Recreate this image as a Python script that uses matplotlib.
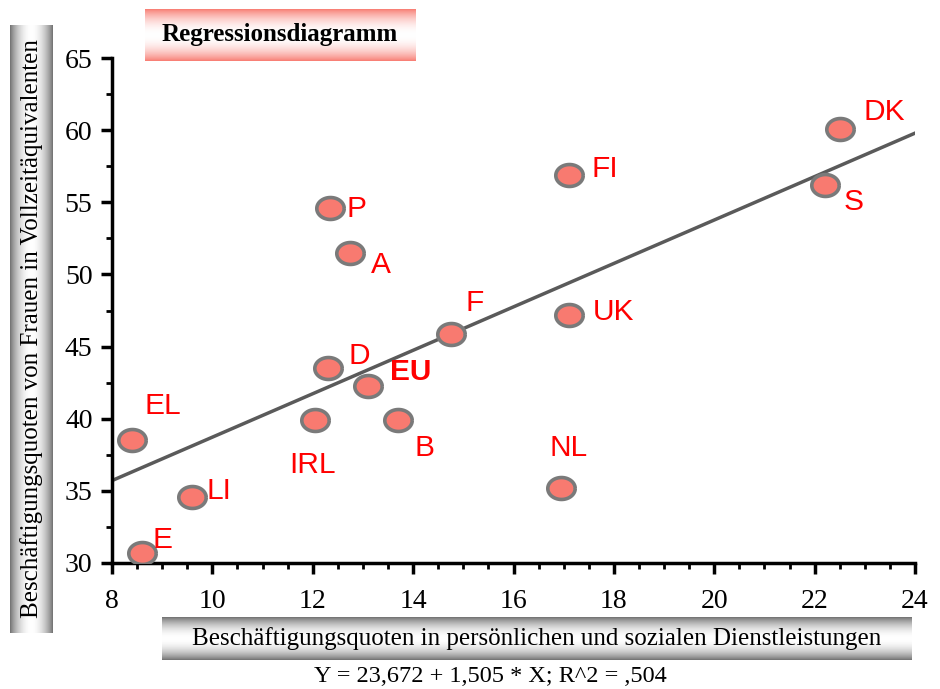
import numpy as np
import matplotlib
matplotlib.use("Agg")
import matplotlib.pyplot as plt
from matplotlib.path import Path
from matplotlib.colors import to_rgb

# data
countries = ["DK", "S", "FI", "P", "A", "F", "UK", "D", "EU", "B", "IRL", "NL", "EL", "LI", "E"]
x_vals = [22.5, 22.2, 17.1, 12.35, 12.75, 14.75, 17.1, 12.3, 13.1, 13.7, 12.05, 16.95, 8.4, 9.6, 8.6]
y_vals = [60.1, 56.2, 56.9, 54.6, 51.5, 45.9, 47.2, 43.5, 42.3, 39.9, 39.9, 35.2, 38.5, 34.6, 30.7]
intercept = 23.672
slope = 1.505

# label offsets (points) relative to each marker
offsets = {
    "DK": (32, 12), "S": (21, -12), "FI": (26, 4), "P": (19, -1), "A": (22, -9),
    "F": (17, 22), "UK": (32, 2), "D": (23, 9), "EU": (31, 10), "B": (19, -20),
    "IRL": (-2, -32), "NL": (5, 29), "EL": (22, 25), "LI": (19, 4), "E": (15, 9),
}

plt.rcParams["font.family"] = ["Liberation Serif", "DejaVu Serif"]

fig = plt.figure(figsize=(9.4, 6.89), dpi=100)
W, H = 940, 689


def px_axes(x0, y0, x1, y1, **kw):
    # axes from pixel box (top-left origin)
    return fig.add_axes([x0 / W, 1 - y1 / H, (x1 - x0) / W, (y1 - y0) / H], **kw)


def gradient_box(x0, y0, x1, y1, edge, vertical=True):
    a = px_axes(x0, y0, x1, y1)
    t = np.linspace(0, 1, 200)
    w = np.sin(np.pi * t) ** 0.8
    e = np.array(to_rgb(edge))
    cols = e[None, :] * (1 - w[:, None]) + w[:, None]
    img = cols[:, None, :] if vertical else cols[None, :, :]
    a.imshow(img, aspect="auto", extent=[0, 1, 0, 1])
    a.set_axis_off()
    return a


ax = px_axes(112, 58, 915, 563)

theta = np.linspace(0, 2 * np.pi, 60)
ell = Path(np.column_stack([np.cos(theta), 0.8 * np.sin(theta)]))
ax.scatter(x_vals, y_vals, s=390, marker=ell, facecolor="#F87A70",
           edgecolor="#7A7A7A", linewidth=2.6, zorder=3)

xl = np.array([8, 24])
ax.plot(xl, intercept + slope * xl, color="#5A5A5A", lw=2.5, zorder=2)

for c, x, y in zip(countries, x_vals, y_vals):
    dx, dy = offsets[c]
    ax.annotate(c, (x, y), xytext=(dx, dy), textcoords="offset points",
                ha="center", va="center", color="red", fontsize=21.5,
                family=["Liberation Sans", "DejaVu Sans"],
                fontweight="bold" if c == "EU" else "normal")

ax.set_xlim(8, 24)
ax.set_ylim(30, 65)
ax.set_xticks(np.arange(8, 25, 2))
ax.set_yticks(np.arange(30, 66, 5))
ax.set_xticks(np.arange(8, 24.1, 0.5), minor=True)
ax.set_yticks(np.arange(30, 65.1, 2.5), minor=True)
ax.spines["top"].set_visible(False)
ax.spines["right"].set_visible(False)
for s in ("left", "bottom"):
    ax.spines[s].set_linewidth(2.5)
ax.tick_params(which="major", direction="out", length=8, width=2.5, labelsize=20)
ax.tick_params(axis="x", which="major", pad=11)
ax.tick_params(axis="y", which="major", pad=6)
ax.tick_params(which="minor", direction="out", length=4, width=2)

# axis title boxes
bx = gradient_box(162, 617, 912, 660, "#6E6E6E", vertical=True)
bx.text(0.5, 0.5, "Beschäftigungsquoten in persönlichen und sozialen Dienstleistungen",
        ha="center", va="center", fontsize=18, transform=bx.transAxes)

by = gradient_box(10, 25, 53, 633, "#6E6E6E", vertical=False)
by.text(0.5, 0.5, "Beschäftigungsquoten von Frauen in Vollzeitäquivalenten",
        ha="center", va="center", fontsize=18, rotation=90, transform=by.transAxes)

bt = gradient_box(145, 9, 415, 61, "#F87A70", vertical=True)
bt.text(0.5, 0.5, "Regressionsdiagramm", ha="center", va="center",
        fontsize=18, fontweight="bold", transform=bt.transAxes)

fig.text(490 / W, 1 - 676 / H, "Y = 23,672 + 1,505 * X; R^2 = ,504",
         ha="center", va="center", fontsize=17.5)

fig.savefig("out.png", dpi=100)
